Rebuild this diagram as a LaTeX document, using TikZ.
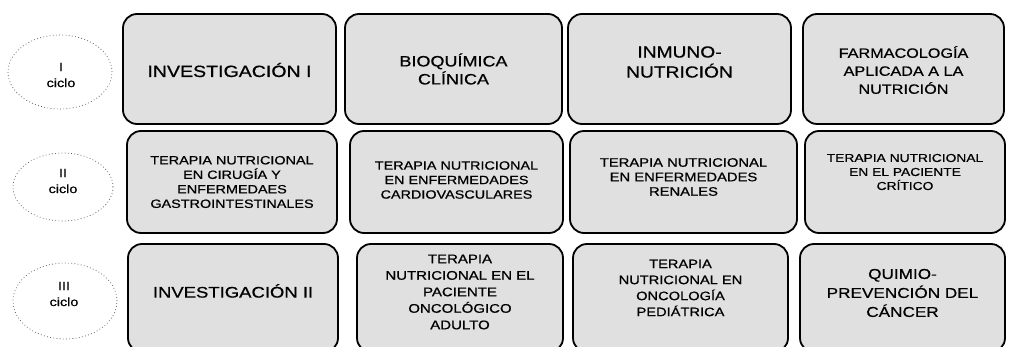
\documentclass[tikz,border=0pt]{standalone}
\usepackage{fontspec}
\setmainfont[FakeStretch=1.2,FakeBold=0.7]{Liberation Sans}
\usetikzlibrary{shapes.geometric}
\begin{document}
\begin{tikzpicture}[x=1pt,y=-1pt,
  cbox/.style={draw=black, line width=1.8pt, rounded corners=14pt, fill=black!12, inner sep=0pt},
  lbl/.style={align=center, text=black, inner sep=0pt},
  cyc/.style={ellipse, draw=black!65, line width=0.7pt, dash pattern=on 0.8pt off 2.4pt, inner sep=0pt},
  fs/.style 2 args={font=\fontsize{#1}{#2}\selectfont}]
\useasboundingbox (0,0) rectangle (1009,347);
\clip (0,0) rectangle (1009,347);
\fill[white] (0,0) rectangle (1009,347);
% cycle ellipses
\node[cyc, minimum width=104pt, minimum height=74pt] (e1) at (60,72) {};
\node[lbl, fs={12}{16}] (c1) at (61,75) {I\\ciclo};
\node[cyc, minimum width=100pt, minimum height=68pt] (e2) at (63,187) {};
\node[lbl, fs={12}{16}] (c2) at (63,181) {II\\ciclo};
\node[cyc, minimum width=104pt, minimum height=76pt] (e3) at (65,301) {};
\node[lbl, fs={12}{16}] (c3) at (64,294) {III\\ciclo};
% row 1
\node[cbox, minimum width=213pt, minimum height=110pt] (b11) at (229.5,69) {};
\node[cbox, minimum width=217pt, minimum height=110pt] (b12) at (453.5,69) {};
\node[cbox, minimum width=223pt, minimum height=110pt] (b13) at (679.5,69) {};
\node[cbox, minimum width=201pt, minimum height=110pt] (b14) at (903.5,69) {};
\node[lbl, fs={16.3}{19}] (t11) at (229.5,70) {INVESTIGACIÓN I};
\node[lbl, fs={15}{18}] (t12) at (453.5,69) {BIOQUÍMICA\\CLÍNICA};
\node[lbl, fs={16}{20}] (t13) at (679.5,62) {INMUNO-\\NUTRICIÓN};
\node[lbl, fs={13.5}{18}] (t14) at (903.5,70) {FARMACOLOGÍA\\APLICADA A LA\\NUTRICIÓN};
% row 2
\node[cbox, minimum width=210pt, minimum height=102pt] (b21) at (232,182) {};
\node[cbox, minimum width=213pt, minimum height=102pt] (b22) at (456.5,182) {};
\node[cbox, minimum width=227pt, minimum height=102pt] (b23) at (683.5,182) {};
\node[cbox, minimum width=200pt, minimum height=102pt] (b24) at (905,182) {};
\node[lbl, fs={12}{14.5}] (t21) at (232,182) {TERAPIA NUTRICIONAL\\EN CIRUGÍA Y\\ENFERMEDAES\\GASTROINTESTINALES};
\node[lbl, fs={12}{14.5}] (t22) at (456.5,180) {TERAPIA NUTRICIONAL\\EN ENFERMEDADES\\CARDIOVASCULARES};
\node[lbl, fs={12.3}{14.5}] (t23) at (683.5,177) {TERAPIA NUTRICIONAL\\EN ENFERMEDADES\\RENALES};
\node[lbl, fs={11.5}{14}] (t24) at (905,172) {TERAPIA NUTRICIONAL\\EN EL PACIENTE\\CRÍTICO};
% row 3
\node[cbox, minimum width=210pt, minimum height=108pt] (b31) at (233,298) {};
\node[cbox, minimum width=206pt, minimum height=108pt] (b32) at (460,298) {};
\node[cbox, minimum width=215pt, minimum height=108pt] (b33) at (680.5,298) {};
\node[cbox, minimum width=205pt, minimum height=108pt] (b34) at (902.5,298) {};
\node[lbl, fs={15.4}{19}] (t31) at (233,291) {INVESTIGACIÓN II};
\node[lbl, fs={12.5}{16.5}] (t32) at (460,292) {TERAPIA\\NUTRICIONAL EN EL\\PACIENTE\\ONCOLÓGICO\\ADULTO};
\node[lbl, fs={12.2}{16}] (t33) at (680.5,288) {TERAPIA\\NUTRICIONAL EN\\ONCOLOGÍA\\PEDIÁTRICA};
\node[lbl, fs={14.3}{19}] (t34) at (902.5,293) {QUIMIO-\\PREVENCIÓN DEL\\CÁNCER};
\end{tikzpicture}
\end{document}
